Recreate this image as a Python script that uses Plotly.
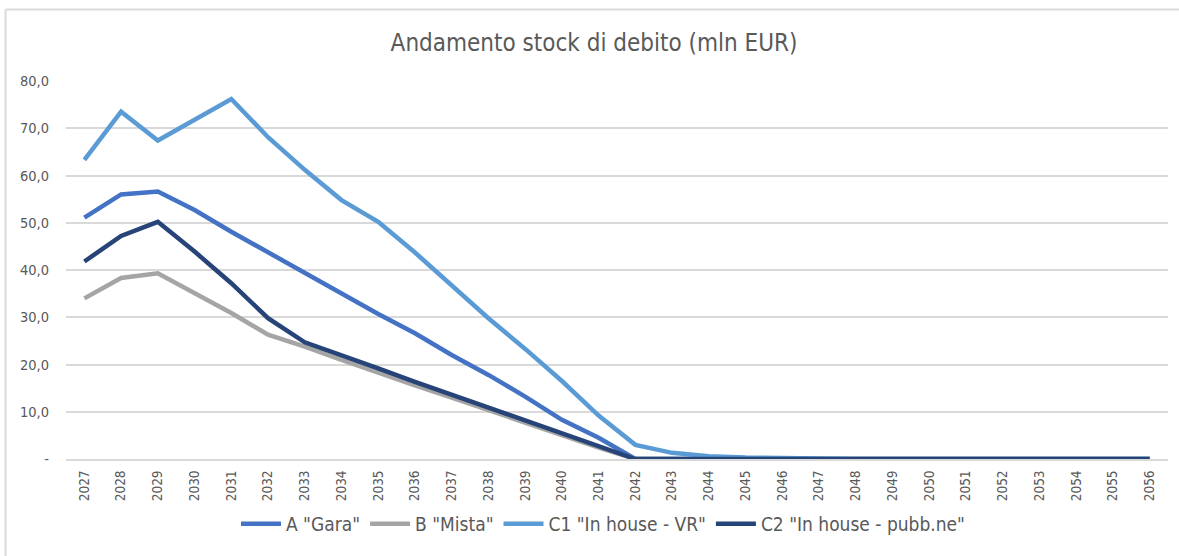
import plotly.graph_objects as go

years = [str(y) for y in range(2027, 2057)]

a_gara = [51.1, 56.0, 56.6, 52.7, 48.1, 43.7, 39.3, 35.1, 30.7, 26.6, 22.0, 17.8, 13.2, 8.3, 4.5,
          0, 0, 0, 0, 0, 0, 0, 0, 0, 0, 0, 0, 0, 0, 0]
b_mista = [34.0, 38.3, 39.3, 35.1, 30.9, 26.3, 23.8, 21.0, 18.2, 15.6, 13.0, 10.3, 7.6, 5.0, 2.4,
           0, 0, 0, 0, 0, 0, 0, 0, 0, 0, 0, 0, 0, 0, 0]
c1_vr = [63.3, 73.5, 67.4, 71.9, 76.2, 68.1, 61.2, 54.8, 50.2, 43.7, 36.8, 29.8, 23.3, 16.5, 9.2,
         3.0, 1.3, 0.6, 0.3, 0.15, 0.05, 0, 0, 0, 0, 0, 0, 0, 0, 0]
c2_pubb = [41.8, 47.2, 50.2, 43.9, 37.2, 29.8, 24.7, 22.0, 19.2, 16.3, 13.6, 10.8, 8.1, 5.4, 2.7,
           0, 0, 0, 0, 0, 0, 0, 0, 0, 0, 0, 0, 0, 0, 0]

series_names = ['A "Gara"', 'B "Mista"', 'C1 "In house - VR"', 'C2 "In house - pubb.ne"']
series_colors = ["#4472C4", "#A5A5A5", "#5B9BD5", "#264478"]
series_values = [a_gara, b_mista, c1_vr, c2_pubb]

y_tickvals = [0, 10, 20, 30, 40, 50, 60, 70, 80]
y_ticktext = ["-", "10,0", "20,0", "30,0", "40,0", "50,0", "60,0", "70,0", "80,0"]

FONT = "Liberation Sans Narrow, Arial Narrow, DejaVu Sans Condensed, sans-serif"
TXT = "#595959"

fig = go.Figure()
for name, color, vals in zip(series_names, series_colors, series_values):
    fig.add_trace(go.Scatter(
        x=years, y=vals, name=name, mode="lines",
        line=dict(color=color, width=4.5),
    ))

W, H = 1179, 556
L, R, T, B = 66, 11, 81, 97
pw, ph = W - L - R, H - T - B

def px_x(x):
    return (x - L) / pw

def px_y(y):
    return (H - B - y) / ph

fig.update_layout(
    width=W, height=H,
    margin=dict(l=L, r=R, t=T, b=B),
    paper_bgcolor="white", plot_bgcolor="white",
    font=dict(family=FONT, color=TXT),
    title=dict(text="Andamento stock di debito (mln EUR)",
               font=dict(family=FONT, size=24, color=TXT),
               x=594 / W, xref="container", xanchor="center",
               y=1 - 43 / H, yref="container", yanchor="middle"),
    showlegend=True,
    legend=dict(orientation="h", x=px_x(603), xanchor="center",
                y=px_y(524), yanchor="middle",
                font=dict(family=FONT, size=19, color=TXT),
                bgcolor="rgba(0,0,0,0)", itemwidth=40),
    xaxis=dict(type="category", showgrid=False, tickangle=-90,
               range=[-0.5, len(years) - 0.5],
               tickfont=dict(family=FONT, size=13.5, color=TXT),
               showline=True, linecolor="#d9d9d9", linewidth=2,
               ticks="", ticklabelstandoff=4, fixedrange=True),
    yaxis=dict(range=[0, 80], tickvals=y_tickvals, ticktext=y_ticktext,
               showgrid=True, gridcolor="#d9d9d9", gridwidth=1.5,
               zeroline=False, showline=False, ticks="",
               tickfont=dict(family=FONT, size=14.5, color=TXT),
               ticklabelstandoff=16, fixedrange=True),
    shapes=[
        dict(type="line", xref="paper", yref="paper",
             x0=px_x(5.5), x1=px_x(5.5), y0=px_y(9.5), y1=px_y(556),
             line=dict(color="#d9d9d9", width=2)),
        dict(type="line", xref="paper", yref="paper",
             x0=px_x(5.5), x1=px_x(1179), y0=px_y(9.5), y1=px_y(9.5),
             line=dict(color="#d9d9d9", width=2)),
    ],
)

fig.write_html("out.html", config={"displayModeBar": False},
               post_script="document.body.style.margin='0';")
